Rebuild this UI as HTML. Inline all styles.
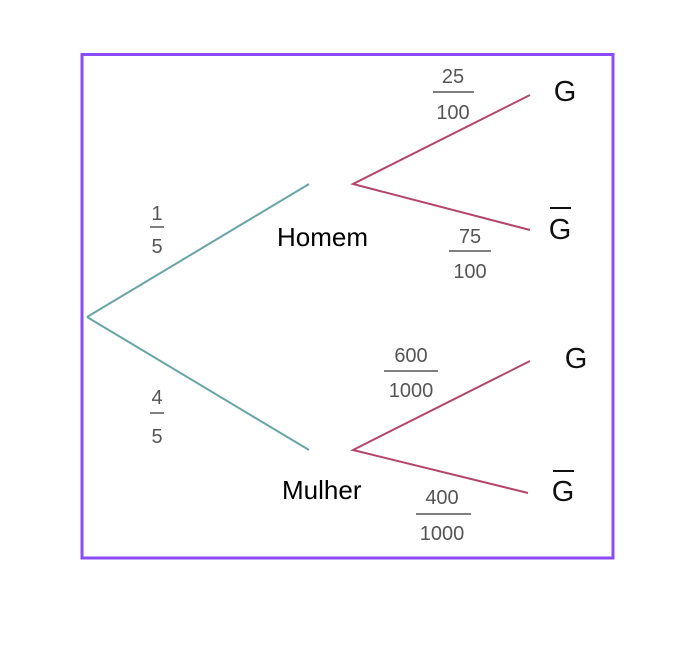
<!DOCTYPE html>
<html><head><meta charset="utf-8"><style>
html,body{margin:0;padding:0;background:#fff;width:694px;height:648px;overflow:hidden}
svg{display:block}
.f{font-family:"Liberation Sans",sans-serif;font-size:20px;fill:#555}
.g{font-family:"Liberation Sans",sans-serif;font-size:29px;fill:#111}
.n{font-family:"Liberation Sans",sans-serif;font-size:26px;fill:#000}
</style></head><body>
<svg width="694" height="648" viewBox="0 0 694 648">
<rect x="82" y="54.5" width="531" height="503.5" fill="none" stroke="#8b4cf7" stroke-width="3"/>
<g stroke="#6aa5a5" stroke-width="2" fill="none">
<line x1="87" y1="317" x2="309" y2="184"/>
<line x1="87" y1="317" x2="309" y2="450"/>
</g>
<g stroke="#b5446a" stroke-width="2" fill="none">
<polyline points="530,95 353,184 530,230"/>
<polyline points="530,361 353,450 528,493"/>
</g>
<g class="f" text-anchor="middle">
<text x="157" y="220">1</text><line x1="150" y1="227" x2="164" y2="227" stroke="#555" stroke-width="1.5"/><text x="157" y="253">5</text>
<text x="157" y="404">4</text><line x1="150" y1="413" x2="164" y2="413" stroke="#555" stroke-width="1.5"/><text x="157" y="443">5</text>
<text x="453" y="83">25</text><line x1="433" y1="92" x2="474" y2="92" stroke="#555" stroke-width="1.5"/><text x="453" y="119">100</text>
<text x="470" y="243">75</text><line x1="449" y1="251" x2="491" y2="251" stroke="#555" stroke-width="1.5"/><text x="470" y="278">100</text>
<text x="411" y="362">600</text><line x1="384" y1="371" x2="438" y2="371" stroke="#555" stroke-width="1.5"/><text x="411" y="397">1000</text>
<text x="442" y="504">400</text><line x1="416" y1="514" x2="471" y2="514" stroke="#555" stroke-width="1.5"/><text x="442" y="540">1000</text>
</g>
<g class="g" text-anchor="middle">
<text x="565" y="101">G</text>
<text x="560" y="239">G</text><line x1="550" y1="208" x2="571" y2="208" stroke="#111" stroke-width="2"/>
<text x="576" y="368">G</text>
<text x="563" y="501">G</text><line x1="553" y1="471" x2="574" y2="471" stroke="#111" stroke-width="2"/>
</g>
<text class="n" x="277" y="246">Homem</text>
<text class="n" x="282" y="499">Mulher</text>
</svg>
</body></html>
